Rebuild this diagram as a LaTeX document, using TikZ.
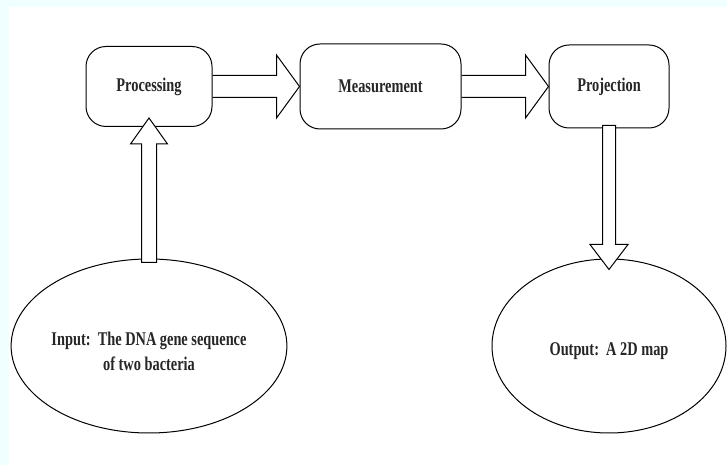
\documentclass[tikz,border=0pt]{standalone}
\usepackage{fontspec}
\newfontfamily\diagfont[FakeStretch=0.74]{Liberation Serif}
\usetikzlibrary{
    shapes.geometric,
    calc,
    positioning
}

\definecolor{paleborder}{RGB}{240,255,255}

\begin{document}
\begin{tikzpicture}[x=1pt,y=1pt,
    every node/.style={font=\diagfont\bfseries\fontsize{19.4}{25}\selectfont,text=black!85},
    stage/.style={draw,line width=1pt,rounded corners=20pt,inner sep=0pt,align=center},
    blob/.style={draw,ellipse,line width=1pt,inner sep=0pt,align=center,
        minimum width=234pt,minimum height=174pt},
    blockarrow/.style={draw,line width=1pt,line join=miter}
]

% Frame
\fill[paleborder] (0,0) rectangle (727,465);
\fill[white] (9,0) rectangle (727,458);
\useasboundingbox (0,0) rectangle (727,465);

% Stages
\node[stage,minimum width=126pt,minimum height=80pt] (proc) at (149,378.5) {Processing};
\node[stage,minimum width=161pt,minimum height=85pt] (meas) at (380.5,378.5) {Measurement};
\node[stage,minimum width=120pt,minimum height=83pt] (proj) at (609,378.5) {Projection};

% Input and output
\node[blob] (inp) at (149,119) {\rule{0pt}{24pt}Input:\ \ The DNA gene sequence\\of two bacteria};
\node[blob] (outp) at (609,119) {\rule{0pt}{24pt}Output:\ \ A 2D map};

% Processing -> Measurement
\draw[blockarrow]
($(proc.east)+(0,11)$) --
($(meas.west)+(-23,11)$) --
($(meas.west)+(-23,31.5)$) --
(meas.west) --
($(meas.west)+(-23,-31.5)$) --
($(meas.west)+(-23,-11)$) --
($(proc.east)+(0,-11)$);

% Measurement -> Projection
\draw[blockarrow]
($(meas.east)+(0,11)$) --
($(proj.west)+(-23,11)$) --
($(proj.west)+(-23,31.5)$) --
(proj.west) --
($(proj.west)+(-23,-31.5)$) --
($(proj.west)+(-23,-11)$) --
($(meas.east)+(0,-11)$);

% Input -> Processing
\draw[blockarrow,fill=white]
($(inp.north)+(-7.5,-4)$) --
($(proc.south)+(-7.5,-17)$) --
($(proc.south)+(-18.5,-17)$) --
($(proc.south)+(0,9)$) --
($(proc.south)+(18.5,-17)$) --
($(proc.south)+(7.5,-17)$) --
($(inp.north)+(7.5,-4)$) -- cycle;

% Projection -> Output
\draw[blockarrow,fill=white]
($(proj.south)+(-6.5,3)$) --
($(outp.north)+(-6.5,14)$) --
($(outp.north)+(-19,14)$) --
($(outp.north)+(0,-11)$) --
($(outp.north)+(19,14)$) --
($(outp.north)+(6.5,14)$) --
($(proj.south)+(6.5,3)$) -- cycle;

\end{tikzpicture}
\end{document}
